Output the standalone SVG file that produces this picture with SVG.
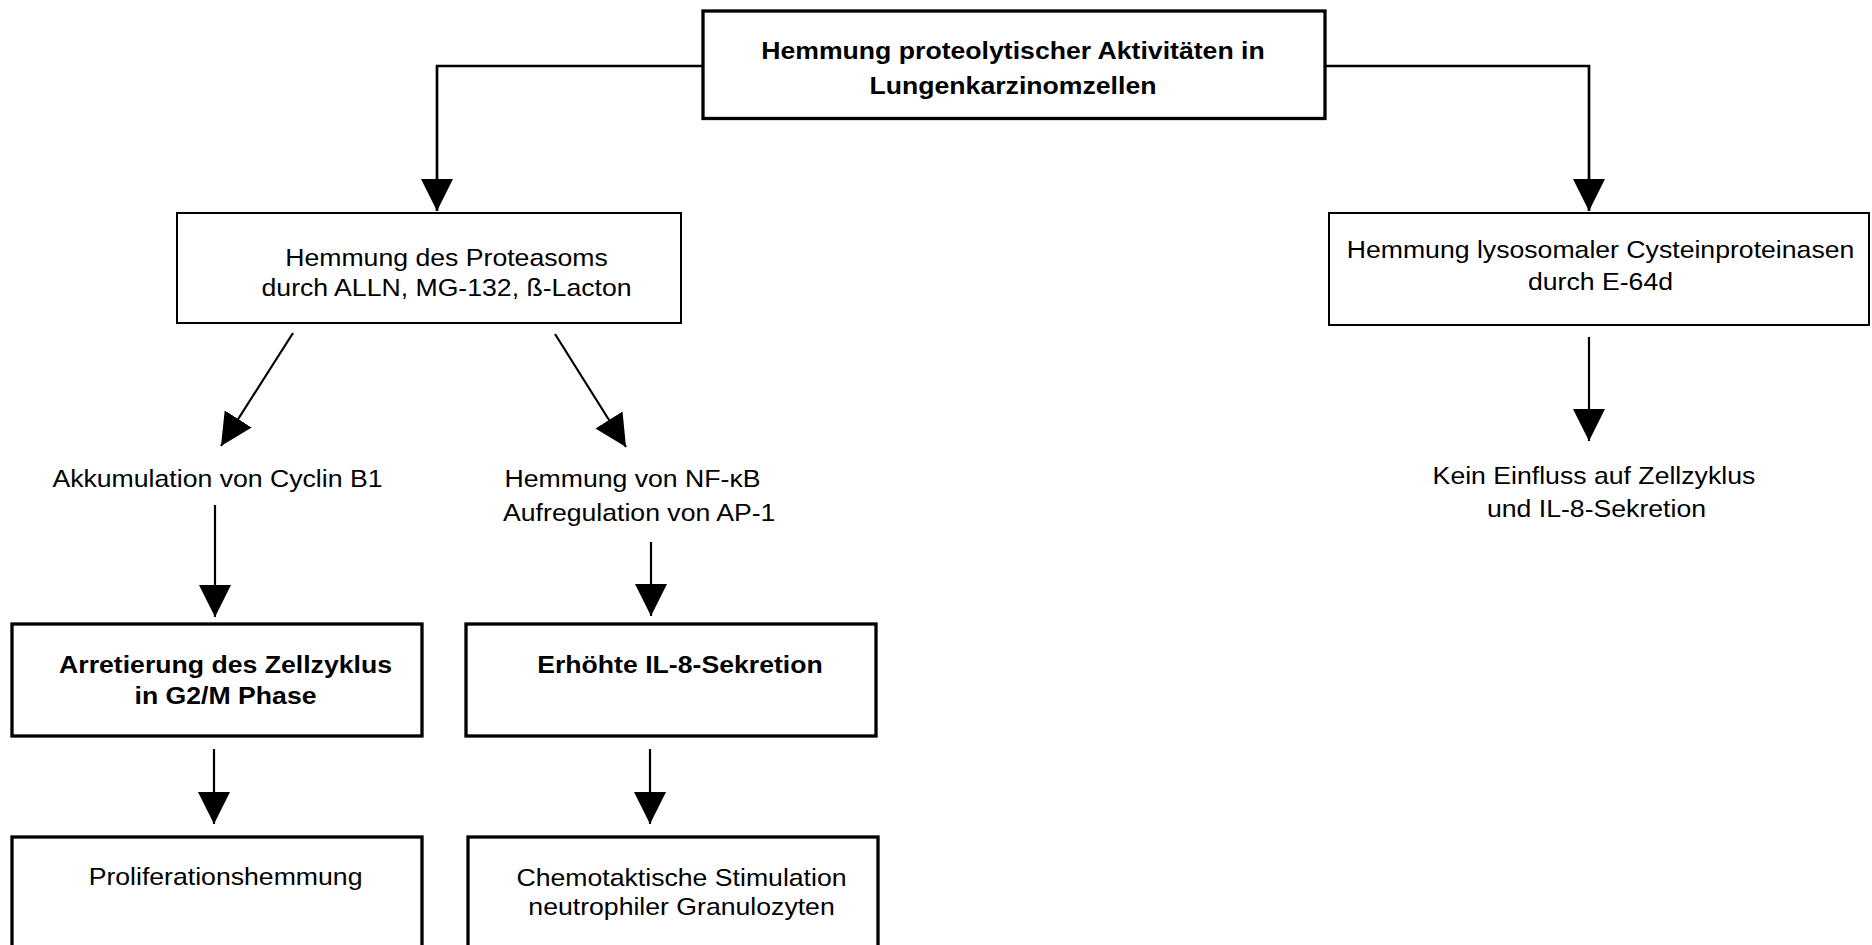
<svg xmlns="http://www.w3.org/2000/svg" width="1872" height="945" viewBox="0 0 1872 945">
<style>
  .t { font-family: "Liberation Sans", Arial, sans-serif; font-size: 24px; fill: #000; text-anchor: middle; }
  .b { font-weight: bold; }
  .s { text-anchor: start; }
  .thick { fill: #fff; stroke: #000; stroke-width: 3.3; }
  .thin { fill: #fff; stroke: #000; stroke-width: 2; }
  .c { fill: none; stroke: #000; stroke-width: 2.2; marker-end: url(#ah); }
  .c2 { fill: none; stroke: #000; stroke-width: 2.7; marker-end: url(#ah); }
</style>
<defs>
  <marker id="ah" viewBox="0 0 32 32" refX="32" refY="16" markerWidth="32" markerHeight="32" markerUnits="userSpaceOnUse" orient="auto">
    <path d="M0,0 L32,16 L0,32 Z" fill="#000"/>
  </marker>
</defs>
<rect x="0" y="0" width="1872" height="945" fill="#fff"/>

<g id="connectors">
  <path class="c2" d="M703,66 H437 V211"/>
  <path class="c2" d="M1325,66 H1589 V211"/>
  <path class="c" d="M293,333 L221,446"/>
  <path class="c" d="M555,334 L626,447"/>
  <path class="c" d="M215,505 V617"/>
  <path class="c" d="M651,542 V616"/>
  <path class="c" d="M214,749 V824"/>
  <path class="c" d="M650,749 V824"/>
  <path class="c" d="M1589,337 V441"/>
</g>

<g id="node-top">
  <rect class="thick" x="703" y="11" width="622" height="107.5"/>
  <text class="t b" transform="scale(1.11 1)" x="912.6" y="59">Hemmung proteolytischer Aktivitäten in</text>
  <text class="t b" transform="scale(1.11 1)" x="912.6" y="94">Lungenkarzinomzellen</text>
</g>

<g id="node-proteasom">
  <rect class="thin" x="177" y="213" width="504" height="110"/>
  <text class="t" transform="scale(1.11 1)" x="402.3" y="266">Hemmung des Proteasoms</text>
  <text class="t" transform="scale(1.11 1)" x="402.3" y="296">durch ALLN, MG-132, ß-Lacton</text>
</g>

<g id="node-lysosomal">
  <rect class="thin" x="1329" y="213" width="540" height="112"/>
  <text class="t" transform="scale(1.11 1)" x="1441.9" y="258">Hemmung lysosomaler Cysteinproteinasen</text>
  <text class="t" transform="scale(1.11 1)" x="1441.9" y="290">durch E-64d</text>
</g>

<g id="node-cyclin">
  <text class="t" transform="scale(1.11 1)" x="195.9" y="487">Akkumulation von Cyclin B1</text>
</g>

<g id="node-nfkb">
  <text class="t s" transform="scale(1.11 1)" x="454.5" y="487">Hemmung von NF-κB</text>
  <text class="t s" transform="scale(1.11 1)" x="453.2" y="521">Aufregulation von AP-1</text>
</g>

<g id="node-kein">
  <text class="t" transform="scale(1.11 1)" x="1436" y="484">Kein Einfluss auf Zellzyklus</text>
  <text class="t" transform="scale(1.11 1)" x="1438.3" y="517">und IL-8-Sekretion</text>
</g>

<g id="node-arretierung">
  <rect class="thick" x="12" y="624" width="410" height="112"/>
  <text class="t b" transform="scale(1.11 1)" x="203.2" y="673">Arretierung des Zellzyklus</text>
  <text class="t b" transform="scale(1.11 1)" x="203.2" y="704">in G2/M Phase</text>
</g>

<g id="node-il8">
  <rect class="thick" x="466" y="624" width="410" height="112"/>
  <text class="t b" transform="scale(1.11 1)" x="612.6" y="673">Erhöhte IL-8-Sekretion</text>
</g>

<g id="node-proliferation">
  <rect class="thick" x="12" y="837" width="410" height="140"/>
  <text class="t" transform="scale(1.11 1)" x="203.2" y="885">Proliferationshemmung</text>
</g>

<g id="node-chemotaxis">
  <rect class="thick" x="468" y="837" width="410" height="140"/>
  <text class="t" transform="scale(1.11 1)" x="614" y="886">Chemotaktische Stimulation</text>
  <text class="t" transform="scale(1.11 1)" x="614" y="915">neutrophiler Granulozyten</text>
</g>
</svg>
